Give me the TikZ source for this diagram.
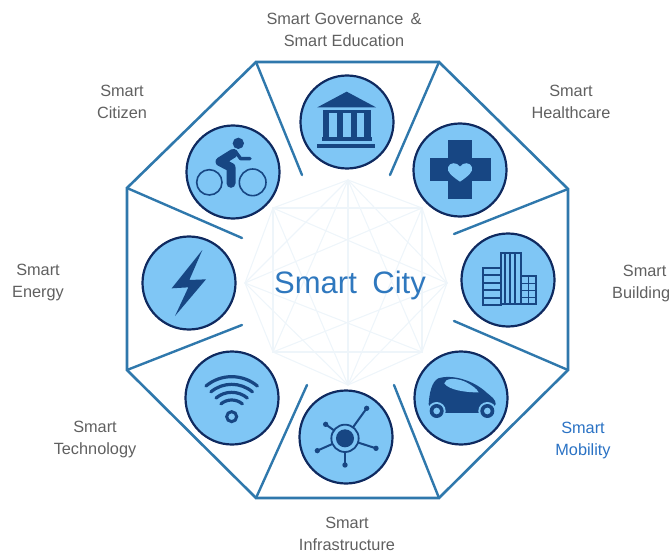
\documentclass[tikz,border=0pt]{standalone}
\usepackage{fontspec}
\setmainfont{Liberation Sans}
\definecolor{frameblue}{HTML}{2F78AC}
\definecolor{diskfill}{HTML}{7FC6F5}
\definecolor{diskedge}{HTML}{0F2A60}
\definecolor{icondark}{HTML}{174683}
\definecolor{labelgray}{HTML}{606060}
\definecolor{mobblue}{HTML}{2A72C4}
\definecolor{cityblue}{HTML}{2F78BE}
\definecolor{netpale}{HTML}{EEF5FA}
\tikzset{
  frameline/.style={draw=frameblue,line width=2.6pt,line join=miter},
  spoke/.style={draw=frameblue,line width=2.4pt,line cap=round},
  disk/.style={circle,draw=diskedge,fill=diskfill,line width=2.2pt,minimum size=93pt,inner sep=0pt},
  lab/.style={text=labelgray,font=\fontsize{16.3}{22}\selectfont,align=center,inner sep=0pt},
  netline/.style={draw=netpale,line width=1.1pt},
  zoomA/.style={shift={(130,50)},scale=1/3},
  zoomB/.style={shift={(380,100)},scale=1/3},
  zoomC/.style={shift={(130,230)},scale=1/3}
}
\begin{document}
\begin{tikzpicture}[x=1pt,y=-1pt]
\useasboundingbox (0,0) rectangle (669,556);
% octagon corners and spoke ends
\coordinate (v1) at (256,62);
\coordinate (v2) at (439,62);
\coordinate (v3) at (568,189);
\coordinate (v4) at (568,370);
\coordinate (v5) at (439,498);
\coordinate (v6) at (256,498);
\coordinate (v7) at (127,370);
\coordinate (v8) at (127,188);
\coordinate (e1) at (302,175);
\coordinate (e2) at (390,175);
\coordinate (e3) at (454,234);
\coordinate (e4) at (454,321);
\coordinate (e5) at (394,385);
\coordinate (e6) at (307,385);
\coordinate (e7) at (242,325);
\coordinate (e8) at (242,238);
% pale network
\coordinate (n1) at (348,180);
\coordinate (n2) at (422,208);
\coordinate (n3) at (447,283);
\coordinate (n4) at (422,352);
\coordinate (n5) at (348,385);
\coordinate (n6) at (273,352);
\coordinate (n7) at (245,283);
\coordinate (n8) at (273,208);
\draw[netline] (n1)--(n2)--(n3)--(n4)--(n5)--(n6)--(n7)--(n8)--cycle;
\draw[netline] (n1)--(n3)--(n5)--(n7)--cycle;
\draw[netline] (n2)--(n4)--(n6)--(n8)--cycle;
\draw[netline] (n1)--(n4)--(n7)--(n2)--(n5)--(n8)--(n3)--(n6)--cycle;
\draw[netline] (n1)--(n5);
% frame
\draw[frameline] (v1)--(v2)--(v3)--(v4)--(v5)--(v6)--(v7)--(v8)--cycle;
\draw[spoke] (v1)--(e1);
\draw[spoke] (v2)--(e2);
\draw[spoke] (v3)--(e3);
\draw[spoke] (v4)--(e4);
\draw[spoke] (v5)--(e5);
\draw[spoke] (v6)--(e6);
\draw[spoke] (v7)--(e7);
\draw[spoke] (v8)--(e8);
% disks
\node[disk] (gov) at (347,122) {};
\node[disk] (cit) at (233,172) {};
\node[disk] (hea) at (460,170) {};
\node[disk] (bui) at (508,280) {};
\node[disk] (mob) at (461,398) {};
\node[disk] (inf) at (346,437) {};
\node[disk] (tec) at (232,398) {};
\node[disk] (ene) at (189,283) {};
% bank
\begin{scope}[zoomA]
\fill[icondark] (562,172)--(650,125)--(738,172)--cycle;
\fill[icondark] (578,180) rectangle (722,190);
\foreach \a in {578,620,663,703} \fill[icondark] (\a,189) rectangle (\a+19,262);
\fill[icondark] (575,260) rectangle (725,274);
\fill[icondark] (562,281) rectangle (735,294);
% cyclist
\fill[icondark] (325,280) circle (17);
\draw[icondark,line width=1.6pt] (238,397) circle (38);
\draw[icondark,line width=1.6pt] (368,397) circle (40);
\draw[icondark,line width=9pt,line join=round,line cap=round] (310,310)--(270,335)--(303,352)--(303,400);
\draw[icondark,line width=3.4pt,line join=round,line cap=round] (315,303)--(332,326)--(360,326);
\end{scope}
% cross, building, car
\begin{scope}[zoomB]
\fill[icondark] (205,120) rectangle (275,297);
\fill[icondark] (150,175) rectangle (332,242);
\fill[diskfill] (240,245) .. controls (215,228) and (200,215) .. (204,202)
  .. controls (208,186) and (232,186) .. (240,200)
  .. controls (248,186) and (272,186) .. (276,202)
  .. controls (280,215) and (265,228) .. (240,245) -- cycle;
% building
\draw[icondark,line width=1.9pt] (308,503) rectangle (362,615);
\foreach \a in {525,548,571,593} \draw[icondark,line width=1.9pt] (308,\a)--(362,\a);
\draw[icondark,line width=2pt] (362,460) rectangle (422,613);
\foreach \a in {376,390,406} \draw[icondark,line width=1.9pt] (\a,460)--(\a,613);
\draw[icondark,line width=1.9pt] (422,527) rectangle (468,613);
\draw[icondark,line width=1.6pt] (445,527)--(445,613);
\foreach \a in {550,572,593} \draw[icondark,line width=1.6pt] (422,\a)--(468,\a);
% car
\fill[icondark] (146,912) .. controls (148,880) and (155,845) .. (175,835)
  .. controls (215,822) and (280,840) .. (320,878)
  .. controls (335,890) and (348,900) .. (347,912)
  -- (340,925) -- (150,925) -- cycle;
\fill[icondark] (170,922) rectangle (322,940);
\fill[diskfill] (193,850) .. controls (195,835) and (225,832) .. (255,845)
  .. controls (275,855) and (290,866) .. (296,877)
  .. controls (260,878) and (205,870) .. (193,850) -- cycle;
\foreach \a in {170,322} {
  \fill[diskfill] (\a,933) circle (27);
  \fill[icondark] (\a,933) circle (21);
  \fill[diskfill] (\a,933) circle (10);
}
\end{scope}
% bolt, wifi, hub
\begin{scope}[zoomC]
\fill[icondark] (217,60)--(125,175)--(175,172)--(135,258)--(228,148)--(178,150)--cycle;
\foreach \r in {120,97,73,50}
  \draw[icondark,line width=3.2pt,line cap=round] ({305+\r*cos(130)},{560-\r*sin(130)}) arc (-130:-50:\r);
\draw[icondark,line width=3pt] (305,560) circle (15);
% hub
\foreach \px/\py in {710/535,587/583,562/662,645/705,738/655} {
  \draw[icondark,line width=2pt] (645,625)--(\px,\py);
  \fill[icondark] (\px,\py) circle (8);
}
\fill[diskfill] (645,625) circle (41);
\draw[icondark,line width=1.8pt] (645,625) circle (41);
\fill[icondark] (645,625) circle (27);
\end{scope}
% labels
\node[lab] (lgov) at (344,30) {Smart Governance \,\&\\Smart Education};
\node[lab] (lcit) at (122,102) {Smart\\Citizen};
\node[lab] (lhea) at (571,102) {Smart\\Healthcare};
\node[lab,anchor=west] (lbui) at (612,283) {\hspace*{7pt}Smart\\Building};
\node[lab,text=mobblue] (lmob) at (583,440) {Smart\\Mobility};
\node[lab] (linf) at (347,534) {Smart\\Infrastructure};
\node[lab] (ltec) at (95,439) {Smart\\Technology};
\node[lab] (lene) at (38,282) {Smart\\Energy};
\node[text=cityblue,font=\fontsize{31}{36}\selectfont,inner sep=0pt] (city) at (350,285) {Smart\hspace{0.5em}City};
\end{tikzpicture}
\end{document}
